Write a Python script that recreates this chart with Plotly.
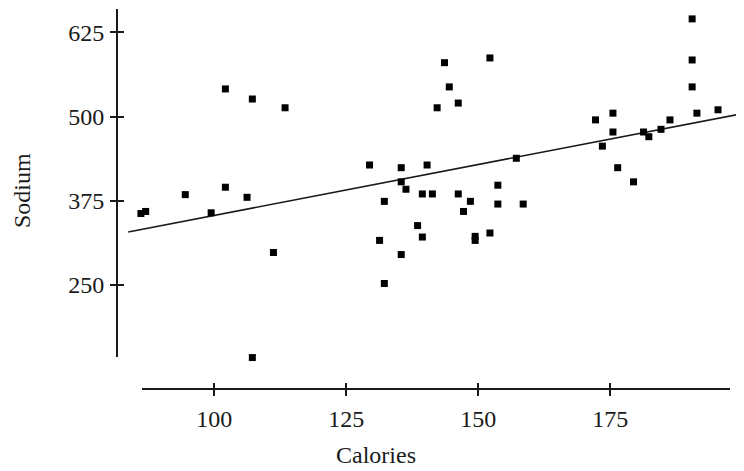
import plotly.graph_objects as go

# Calories vs Sodium
calories = [102.1, 107.2, 113.4, 94.5, 102.1, 106.2, 86.1, 87.0, 99.4, 111.2,
            107.2, 143.6, 152.2, 144.5, 142.2, 146.2, 129.4, 135.4, 140.3, 157.2,
            135.4, 136.3, 153.7, 132.2, 139.4, 141.3, 146.2, 148.5, 147.2, 153.7,
            158.5, 138.5, 139.4, 131.3, 135.4, 149.4, 149.4, 152.2, 132.2, 190.5,
            190.5, 190.5, 191.4, 195.4, 172.2, 175.5, 175.5, 173.5, 181.3, 182.3,
            184.6, 186.3, 176.4, 179.4]
sodium = [541, 526, 513, 384, 395, 380, 356, 359, 357, 298,
          142, 580, 587, 544, 513, 520, 428, 424, 428, 438,
          403, 392, 398, 374, 385, 385, 385, 374, 359, 370,
          370, 338, 321, 316, 295, 322, 316, 327, 252, 645,
          584, 544, 505, 510, 495, 505, 477, 456, 477, 470,
          481, 495, 424, 403]

# fitted line end points
fit_calories = [83.7, 200.3]
fit_sodium = [328.5, 504.8]

x_ticks = [100, 125, 150, 175]
y_ticks = [250, 375, 500, 625]

ink = '#1a1a1a'
serif = dict(family='Liberation Serif', size=24, color=ink)

data = [
    go.Scatter(x=fit_calories, y=fit_sodium, mode='lines',
               line=dict(color=ink, width=1.6), hoverinfo='skip'),
    go.Scatter(x=calories, y=sodium, mode='markers',
               marker=dict(symbol='square', size=7, color='black')),
    # empty traces so the drawn axes get built
    go.Scatter(x=[None], y=[None], xaxis='x2', yaxis='y2', hoverinfo='skip'),
    go.Scatter(x=[None], y=[None], xaxis='x3', yaxis='y2', hoverinfo='skip'),
    go.Scatter(x=[None], y=[None], xaxis='x2', yaxis='y3', hoverinfo='skip'),
]

axis_style = dict(showgrid=False, zeroline=False, linecolor=ink, tickcolor=ink,
                  tickwidth=1.5, ticklen=6, tickfont=serif)

# page body has an 8px margin, so the figure is 8px smaller on each side
layout = go.Layout(
    width=736, height=463,
    margin=dict(l=109, r=0, t=1, b=82, pad=0),
    plot_bgcolor='rgba(0,0,0,0)', paper_bgcolor='white',
    showlegend=False,
    # hidden axes carrying the data
    xaxis=dict(domain=[0, 1], range=[81.57, 200.32], visible=False),
    yaxis=dict(domain=[0, 1], range=[95.3, 659.7], visible=False),
    # visible, detached axes
    xaxis2=dict(domain=[0.0394, 0.9777], range=[86.25, 197.67], anchor='free', position=0,
                showline=True, linewidth=2, ticks='outside', tickvals=x_ticks,
                ticklabelstandoff=2, **axis_style),
    yaxis2=dict(domain=[0.0842, 1], range=[142.8, 659.7], anchor='free', position=0,
                showline=True, linewidth=2, ticks='outside', tickvals=y_ticks,
                ticklabelstandoff=1, **axis_style),
    xaxis3=dict(overlaying='x2', range=[86.25, 197.67], anchor='free', position=0,
                showline=False, ticks='inside', tickvals=x_ticks, showticklabels=False,
                **axis_style),
    yaxis3=dict(overlaying='y2', range=[142.8, 659.7], anchor='free', position=0,
                showline=False, ticks='inside', tickvals=y_ticks, showticklabels=False,
                **axis_style),
    annotations=[
        dict(text='Sodium', textangle=-90, xref='paper', yref='paper', x=-0.1515, y=0.521,
             xanchor='center', yanchor='middle', showarrow=False, font=serif),
        dict(text='Calories', xref='paper', yref='paper', x=0.413, y=-0.1737,
             xanchor='center', yanchor='middle', showarrow=False, font=serif),
    ],
)

fig = go.Figure(data=data, layout=layout)
fig.write_html('out.html')
